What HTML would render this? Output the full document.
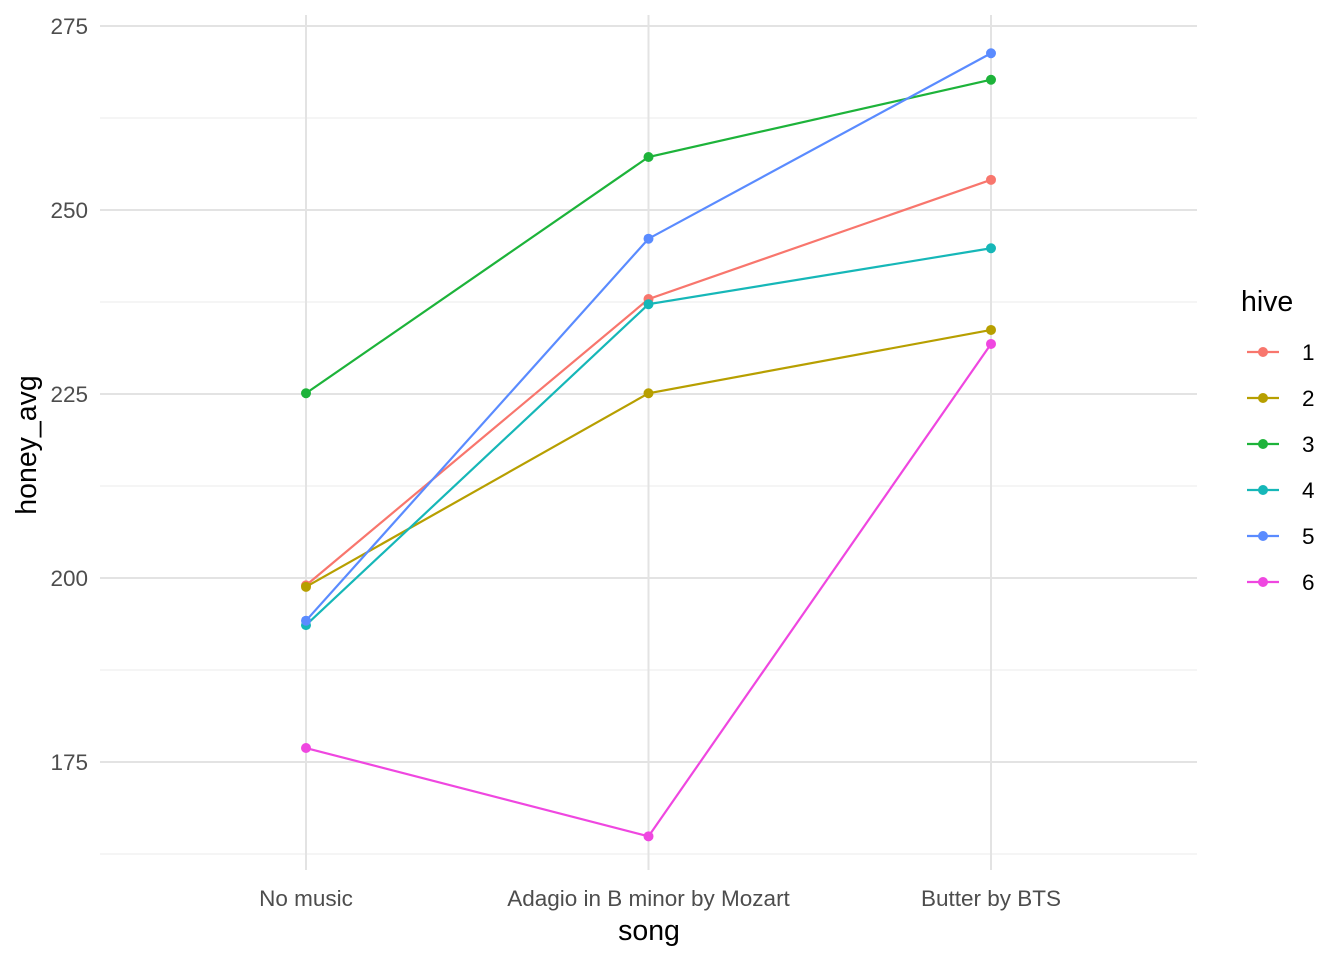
<!DOCTYPE html>
<html><head><meta charset="utf-8"><style>
body{margin:0;background:#fff;font-family:"Liberation Sans",Arial,sans-serif}
</style></head><body>
<svg id="chart" width="1344" height="960" xmlns="http://www.w3.org/2000/svg" font-family="Liberation Sans, Arial, sans-serif"></svg>
<script>
const categories=["No music","Adagio in B minor by Mozart","Butter by BTS"];
const hives=["1","2","3","4","5","6"];
const colors=["#F8766D","#B79F00","#1DB33A","#16B7B8","#5A8BFF","#EF47E0"];
const hive1=[199.0,237.9,254.1];
const hive2=[198.8,225.1,233.7];
const hive3=[225.1,257.2,267.7];
const hive4=[193.6,237.2,244.8];
const hive5=[194.2,246.1,271.3];
const hive6=[176.9,164.9,231.8];
const series=[hive1,hive2,hive3,hive4,hive5,hive6];
const yTicks=[175,200,225,250,275];
const yMinor=[162.5,187.5,212.5,237.5,262.5];

const svg=document.getElementById('chart');
const NS='http://www.w3.org/2000/svg';
const xs=i=>306+i*342.5;
const ys=v=>578-(v-200)*7.36;
function mk(tag,attrs,parent){const e=document.createElementNS(NS,tag);for(const k in attrs)e.setAttribute(k,attrs[k]);(parent||svg).appendChild(e);return e;}
const L=100,R=1197,T=15,B=870;
const grid=mk('g',{});


yMinor.forEach(v=>mk('line',{x1:L,x2:R,y1:ys(v),y2:ys(v),stroke:'#ebebeb','stroke-width':1},grid));
yTicks.forEach(v=>mk('line',{x1:L,x2:R,y1:ys(v),y2:ys(v),stroke:'#e3e3e3','stroke-width':2},grid));
categories.forEach((c,i)=>mk('line',{x1:xs(i),x2:xs(i),y1:T,y2:B,stroke:'#e3e3e3','stroke-width':2},grid));
yTicks.forEach(v=>{const t=mk('text',{x:88,y:ys(v)+8,'text-anchor':'end','font-size':22.5,fill:'#4d4d4d'});t.textContent=v;

});
categories.forEach((c,i)=>{const t=mk('text',{x:xs(i),y:906,'text-anchor':'middle','font-size':22.5,fill:'#4d4d4d'});t.textContent=c;

});
series.forEach((s,k)=>{
  const g=mk('g',{});
  
  
  mk('polyline',{points:s.map((v,i)=>xs(i)+','+ys(v)).join(' '),fill:'none',stroke:colors[k],'stroke-width':2.2},g);
  s.forEach((v,i)=>{const c=mk('circle',{cx:xs(i),cy:ys(v),r:5,fill:colors[k]},g);
  
  });
});
let t=mk('text',{x:649,y:940,'text-anchor':'middle','font-size':28.5,fill:'#000'});t.textContent='song';


t=mk('text',{x:0,y:0,'text-anchor':'middle','font-size':28.5,fill:'#000',transform:'translate(36,445) rotate(-90)'});t.textContent='honey_avg';


t=mk('text',{x:1241,y:311,'font-size':28.5,fill:'#000'});t.textContent='hive';


hives.forEach((h,k)=>{
  const y=352+k*46;
  const g=mk('g',{});
  
  
  mk('line',{x1:1247,x2:1279,y1:y,y2:y,stroke:colors[k],'stroke-width':2.2},g);
  mk('circle',{cx:1263,cy:y,r:5,fill:colors[k]},g);
  const tt=mk('text',{x:1302,y:y+8,'font-size':22.5,fill:'#000'},g);tt.textContent=h;
});
</script>
</body></html>
